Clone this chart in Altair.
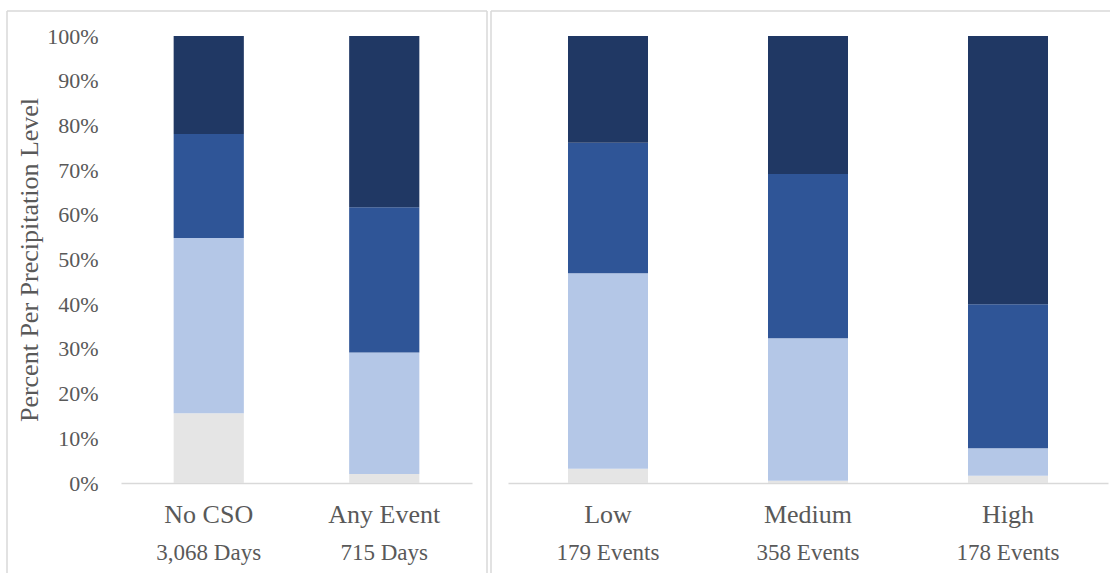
import altair as alt
import pandas as pd

SERIF = "Liberation Serif"
TEXT = "#595959"
LINE = "#D9D9D9"

# Precipitation levels, stacked bottom to top
levels = ["Dry", "Light", "Moderate", "Heavy"]
level_colors = ["#E5E5E5", "#B4C7E7", "#2F5597", "#203864"]

# Days with and without combined sewer overflow (percent per level)
cso_groups = ["No CSO", "Any Event"]
cso_counts = ["3,068 Days", "715 Days"]
cso_dry = [15.6, 2.0]
cso_light = [39.2, 27.2]
cso_moderate = [23.3, 32.5]
cso_heavy = [21.9, 38.3]

# Overflow events by size (percent per level)
size_groups = ["Low", "Medium", "High"]
size_counts = ["179 Events", "358 Events", "178 Events"]
size_dry = [3.2, 0.5, 1.6]
size_light = [43.7, 31.9, 6.2]
size_moderate = [29.2, 36.7, 32.2]
size_heavy = [23.9, 30.9, 60.0]

HEIGHT = 447


def long_table(groups, series):
    rows = []
    for rank, (lvl, vals) in enumerate(zip(levels, series)):
        for g, v in zip(groups, vals):
            rows.append({"group": g, "level": lvl, "rank": rank, "pct": v})
    return pd.DataFrame(rows)


def frame_rules(segments):
    """Light grey panel outline drawn as rules (x, x2, y, y2 in pixels)."""
    edge = pd.DataFrame({"edge": [0]})
    layers = []
    for x1, x2, y1, y2 in segments:
        layers.append(
            alt.Chart(edge)
            .mark_rule(color=LINE, strokeWidth=1.5)
            .encode(x=alt.value(x1), x2=alt.value(x2), y=alt.value(y1), y2=alt.value(y2))
        )
    return layers


def panel(groups, counts, series, width, show_y, segments):
    df = long_table(groups, series)
    x_enc = alt.X(
        "group:N",
        sort=groups,
        title=None,
        scale=alt.Scale(paddingInner=0.6, paddingOuter=0.3),
        axis=alt.Axis(
            labelAngle=0,
            labelFont=SERIF,
            labelFontSize=26,
            labelColor=TEXT,
            labelPadding=18,
            ticks=False,
            tickSize=0,
            domainColor=LINE,
            domainWidth=1.5,
            grid=False,
        ),
    )
    if show_y:
        y_axis = alt.Axis(
            values=list(range(0, 101, 10)),
            labelExpr="datum.value + '%'",
            labelFont=SERIF,
            labelFontSize=22,
            labelColor=TEXT,
            labelPadding=23,
            domain=False,
            ticks=False,
            tickSize=0,
            grid=False,
            title="Percent Per Precipitation Level",
            titleFont=SERIF,
            titleFontSize=26,
            titleFontWeight="normal",
            titleColor=TEXT,
            titlePadding=4,
        )
    else:
        y_axis = None
    bars = (
        alt.Chart(df)
        .mark_bar()
        .encode(
            x=x_enc,
            y=alt.Y("pct:Q", stack="zero", scale=alt.Scale(domain=[0, 100], nice=False), axis=y_axis),
            color=alt.Color("level:N", scale=alt.Scale(domain=levels, range=level_colors), legend=None),
            order=alt.Order("rank:Q", sort="ascending"),
        )
    )
    count_df = pd.DataFrame({"group": groups, "count": counts})
    count_text = (
        alt.Chart(count_df)
        .mark_text(font=SERIF, fontSize=23, color=TEXT, baseline="alphabetic", align="center")
        .encode(x=alt.X("group:N", sort=groups), y=alt.value(HEIGHT + 77), text="count:N")
    )
    return alt.layer(bars, count_text, *frame_rules(segments)).properties(width=width, height=HEIGHT)


left = panel(
    cso_groups,
    cso_counts,
    [cso_dry, cso_light, cso_moderate, cso_heavy],
    351,
    True,
    [(-114, -114, -25, 537), (-114, 366, -25, -25), (366, 366, -25, 537)],
)
right = panel(
    size_groups,
    size_counts,
    [size_dry, size_light, size_moderate, size_heavy],
    600,
    False,
    [(-17, -17, -25, 537), (-17, 602, -25, -25)],
)

chart = (
    alt.hconcat(left, right, spacing=36, bounds="flush")
    .properties(padding={"left": 6, "top": 10, "right": 0, "bottom": 0}, background="white")
    .configure_view(stroke=None)
)

chart.save("out.html", embed_options={"renderer": "svg", "actions": False})
